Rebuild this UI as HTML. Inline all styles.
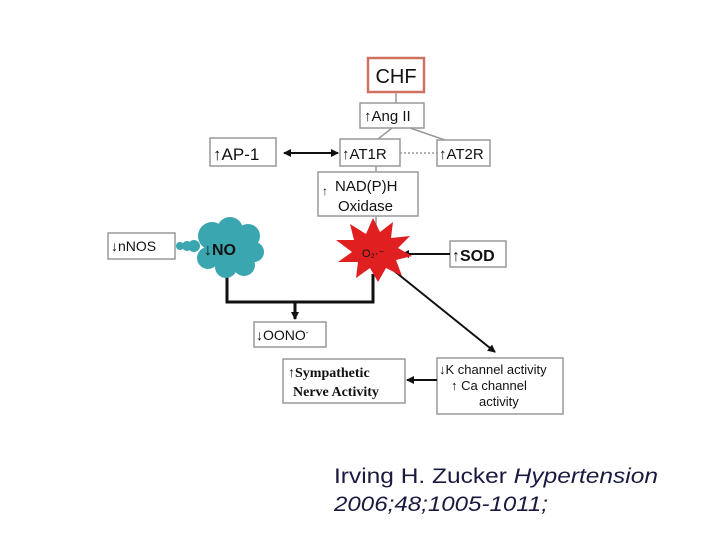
<!DOCTYPE html>
<html><head><meta charset="utf-8"><style>body{margin:0;background:#fff}</style></head><body>
<svg width="720" height="540" viewBox="0 0 720 540" xmlns="http://www.w3.org/2000/svg" font-family="Liberation Sans, Arial, sans-serif">
<defs><marker id="a" markerWidth="8" markerHeight="8" refX="7" refY="4" orient="auto" markerUnits="userSpaceOnUse"><path d="M0,0 L8,4 L0,8 z" fill="#111"/></marker>
<marker id="b" markerWidth="8" markerHeight="8" refX="1" refY="4" orient="auto" markerUnits="userSpaceOnUse"><path d="M8,0 L0,4 L8,8 z" fill="#111"/></marker></defs>
<g fill="#fff" stroke="#999" stroke-width="1.5">
<rect x="368" y="58" width="56" height="34" stroke="#d07060" stroke-width="2.5"/>
<rect x="360" y="103" width="64" height="25"/>
<rect x="210" y="138" width="66" height="28"/>
<rect x="340" y="139" width="60" height="27"/>
<rect x="437" y="140" width="53" height="26"/>
<rect x="318" y="172" width="100" height="44"/>
<rect x="108" y="233" width="67" height="26"/>
<rect x="450" y="241" width="56" height="26"/>
<rect x="254" y="322" width="72" height="25"/>
<rect x="437" y="358" width="126" height="56"/>
<rect x="283" y="359" width="122" height="44"/>
</g>
<g stroke="#999" stroke-width="1.5" fill="none">
<line x1="396" y1="92" x2="396" y2="103"/>
<line x1="392" y1="128" x2="378" y2="139"/>
<line x1="410" y1="128" x2="445" y2="140"/>
<line x1="400" y1="153" x2="437" y2="153" stroke-dasharray="2,2"/>
<line x1="376" y1="166" x2="376" y2="172"/>
<line x1="376" y1="216" x2="376" y2="228"/>
</g>
<g stroke="#111" stroke-width="2" fill="none">
<line x1="284" y1="153" x2="338" y2="153" marker-start="url(#b)" marker-end="url(#a)"/>
<line x1="450" y1="254" x2="402" y2="254" marker-end="url(#a)"/>
<line x1="393" y1="270" x2="495" y2="352" marker-end="url(#a)"/>
<line x1="437" y1="380" x2="407" y2="380" marker-end="url(#a)"/>
<path d="M227 274 V302 H373 V274" stroke-width="3"/>
<line x1="295" y1="302" x2="295" y2="319" stroke-width="3" marker-end="url(#a)"/>
</g>
<g fill="#3aa6b0" stroke="none">
<circle cx="180" cy="246" r="4"/><circle cx="187" cy="246" r="5"/><circle cx="194" cy="246" r="6"/>
<circle cx="212" cy="236" r="14"/><circle cx="230" cy="230" r="13"/><circle cx="248" cy="236" r="12"/>
<circle cx="254" cy="252" r="10"/><circle cx="244" cy="265" r="11"/><circle cx="226" cy="267" r="11"/>
<circle cx="208" cy="258" r="11"/><circle cx="229" cy="250" r="20"/>
</g>
<polygon fill="#e02020" points="373,218 380,232 393,222 391,238 410,236 398,248 412,256 396,260 402,276 386,268 378,282 370,268 356,278 358,262 338,262 352,252 336,240 354,240 350,224 366,234" />
<g font-size="14" fill="#111">
<text x="396" y="83" text-anchor="middle" font-size="20">CHF</text>
<text x="364" y="121" font-size="15">↑Ang II</text>
<text x="213" y="160" font-size="17">↑AP-1</text>
<text x="342" y="159" font-size="15">↑AT1R</text>
<text x="439" y="159" font-size="15">↑AT2R</text>
<text x="335" y="191" font-size="15">NAD(P)H</text>
<text x="338" y="211" font-size="15">Oxidase</text>
<text x="322" y="195" font-size="12">↑</text>
<text x="111" y="251" font-size="14">↓nNOS</text>
<text x="204" y="255" font-size="16" font-weight="bold">↓NO</text>
<text x="362" y="257" font-size="11">O₂·⁻</text>
<text x="452" y="261" font-size="16" font-weight="bold">↑SOD</text>
<text x="256" y="340" font-size="14">↓OONO<tspan font-size="8" dy="-5">-</tspan></text>
<text x="288" y="377" font-family="Liberation Serif, serif" font-weight="bold" font-size="14">↑Sympathetic</text>
<text x="293" y="396" font-family="Liberation Serif, serif" font-weight="bold" font-size="14">Nerve Activity</text>
<text x="439" y="374" font-size="13">↓K channel activity</text>
<text x="451" y="390" font-size="13">↑ Ca channel</text>
<text x="479" y="406" font-size="13">activity</text>
</g>
<text x="334" y="483" font-size="21.5" fill="#1a1a40" textLength="324" lengthAdjust="spacingAndGlyphs">Irving H. Zucker <tspan font-style="italic">Hypertension</tspan></text>
<text x="334" y="511" font-size="21.5" font-style="italic" fill="#1a1a40" textLength="214" lengthAdjust="spacingAndGlyphs">2006;48;1005-1011;</text>
</svg>
</body></html>
